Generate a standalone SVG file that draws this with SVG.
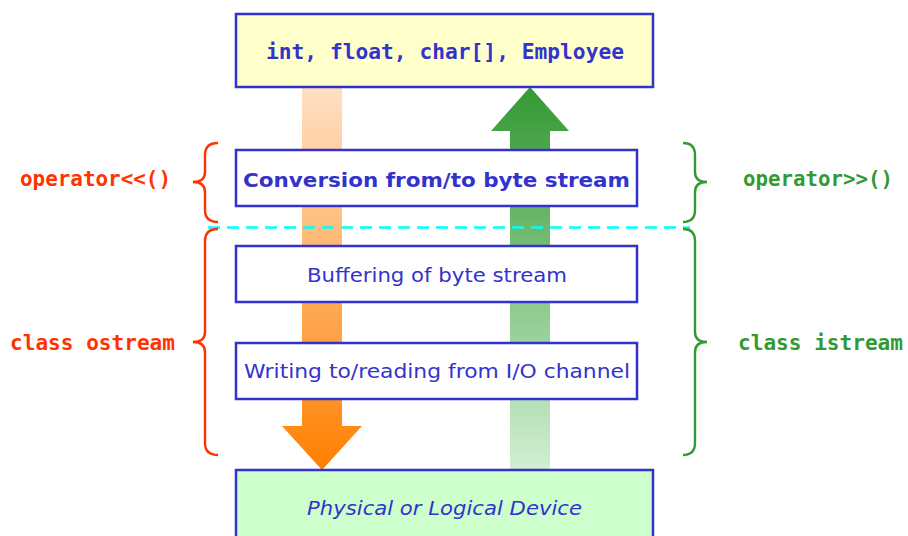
<svg xmlns="http://www.w3.org/2000/svg" width="908" height="536" viewBox="0 0 908 536">
<defs>
<linearGradient id="gOrange" gradientUnits="userSpaceOnUse" x1="0" y1="87" x2="0" y2="470">
<stop offset="0" stop-color="#FFE0C4"/>
<stop offset="1" stop-color="#FF8000"/>
</linearGradient>
<linearGradient id="gGreen" gradientUnits="userSpaceOnUse" x1="0" y1="87" x2="0" y2="470">
<stop offset="0" stop-color="#339933"/>
<stop offset="1" stop-color="#D2EFD2"/>
</linearGradient>
</defs>
<style>
.box{stroke:#3333CC;stroke-width:2.5}
.mono{font-family:"DejaVu Sans Mono","Liberation Mono",monospace;font-weight:bold;font-size:21px}
.sans{font-family:"DejaVu Sans","Verdana","Liberation Sans",sans-serif;font-size:20px;fill:#3333CC}
.red{fill:#FF3300}
.green{fill:#339933}
.braceR{fill:none;stroke:#FF3300;stroke-width:2.4}
.braceG{fill:none;stroke:#339933;stroke-width:2.4}
</style>
<rect width="908" height="536" fill="#FFFFFF"/>
<g id="connectors">
<path id="arrow-down" d="M302,87 H342 V426 H362 L322,470 L282,426 H302 Z" fill="url(#gOrange)"/>
<path id="arrow-up" d="M510,470 H550 V131 H569 L530,87 L491,131 H510 Z" fill="url(#gGreen)"/>
<line id="divider" x1="208" y1="227.5" x2="690" y2="227.5" stroke="#00FFFF" stroke-width="2.4" stroke-dasharray="12,7"/>
</g>
<g id="types">
<rect class="box" x="236" y="14" width="417" height="73" fill="#FFFFCC"/>
<text class="mono" x="445" y="59" text-anchor="middle" fill="#3333CC" textLength="358" lengthAdjust="spacingAndGlyphs">int, float, char[], Employee</text>
</g>
<g id="conversion">
<rect class="box" x="236" y="150" width="401" height="56" fill="#FFFFFF"/>
<text class="sans" x="436.5" y="187" text-anchor="middle" font-weight="bold" font-size="21" textLength="387" lengthAdjust="spacingAndGlyphs">Conversion from/to byte stream</text>
</g>
<g id="buffering">
<rect class="box" x="236" y="246" width="401" height="56" fill="#FFFFFF"/>
<text class="sans" x="437" y="282" text-anchor="middle" textLength="260" lengthAdjust="spacingAndGlyphs">Buffering of byte stream</text>
</g>
<g id="writing">
<rect class="box" x="236" y="343" width="401" height="56" fill="#FFFFFF"/>
<text class="sans" x="437" y="378" text-anchor="middle" textLength="386" lengthAdjust="spacingAndGlyphs">Writing to/reading from I/O channel</text>
</g>
<g id="device">
<rect class="box" x="236" y="470" width="417" height="80" fill="#CCFFCC"/>
<text class="sans" x="444.5" y="515" text-anchor="middle" font-style="italic" textLength="275" lengthAdjust="spacingAndGlyphs">Physical or Logical Device</text>
</g>
<g id="ostream-op">
<path class="braceR" d="M218,143 Q205,143 205,155 V172 Q205,182 193,182 Q205,182 205,192 V210 Q205,222 218,222"/>
<text class="mono red" x="20" y="186" textLength="151" lengthAdjust="spacingAndGlyphs">operator&lt;&lt;()</text>
</g>
<g id="ostream-class">
<path class="braceR" d="M218,229 Q205,229 205,241 V332 Q205,342 193,342 Q205,342 205,352 V443 Q205,455 218,455"/>
<text class="mono red" x="10" y="350" textLength="165" lengthAdjust="spacingAndGlyphs">class ostream</text>
</g>
<g id="istream-op">
<path class="braceG" d="M683,143 Q695,143 695,155 V172 Q695,182 707,182 Q695,182 695,192 V210 Q695,222 683,222"/>
<text class="mono green" x="743" y="186" textLength="150" lengthAdjust="spacingAndGlyphs">operator&gt;&gt;()</text>
</g>
<g id="istream-class">
<path class="braceG" d="M683,229 Q695,229 695,241 V332 Q695,342 707,342 Q695,342 695,352 V443 Q695,455 683,455"/>
<text class="mono green" x="738" y="350" textLength="165" lengthAdjust="spacingAndGlyphs">class istream</text>
</g>
</svg>
